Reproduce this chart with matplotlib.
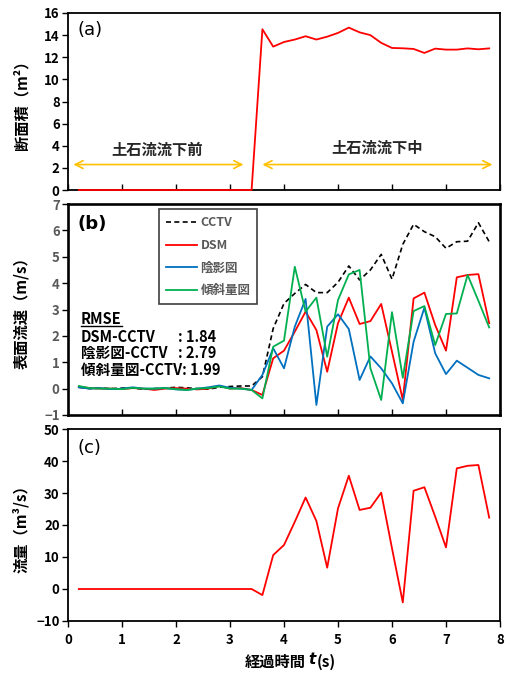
import numpy as np
import matplotlib
matplotlib.use("Agg")
import matplotlib.pyplot as plt
from matplotlib.lines import Line2D

plt.rcParams['font.family'] = ['Noto Sans CJK JP', 'DejaVu Sans']

# ---------------- data ----------------
t = [round(0.2 * i, 1) for i in range(1, 40)]  # 0.2 ... 7.8

area = [0.0] * 17 + [14.53, 12.96, 13.38, 13.6, 13.9, 13.6, 13.86, 14.2, 14.68,
                     14.25, 14.0, 13.3, 12.84, 12.81, 12.75, 12.39, 12.78, 12.69,
                     12.69, 12.8, 12.72, 12.8]

cctv = [0.05, 0.0, 0.02, 0.0, 0.02, 0.03, -0.03, 0.0, 0.02, 0.05, 0.03, 0.0, -0.02,
        0.05, 0.08, 0.1, 0.1,
        0.45, 2.28, 3.23, 3.61, 3.95, 3.64, 3.64, 4.03, 4.65, 4.12, 4.5, 5.09, 4.15,
        5.47, 6.23, 5.95, 5.76, 5.32, 5.57, 5.59, 6.29, 5.57]
dsm = [0.08, 0.02, 0.0, 0.0, -0.02, 0.02, 0.0, -0.05, 0.0, 0.02, 0.0, -0.03, 0.0,
       0.1, 0.0, 0.02, -0.05,
       -0.24, 1.15, 1.44, 2.16, 2.92, 2.22, 0.64, 2.48, 3.45, 2.45, 2.56, 3.21, 1.4,
       -0.43, 3.42, 3.64, 2.41, 1.44, 4.22, 4.31, 4.34, 2.48]
shade = [0.05, 0.0, 0.02, -0.02, 0.0, 0.05, 0.0, 0.0, 0.02, -0.03, -0.05, 0.0, 0.05,
         0.12, 0.03, 0.0, -0.05,
         0.52, 1.53, 0.77, 2.35, 3.4, -0.62, 2.35, 2.82, 2.26, 0.33, 1.22, 0.77, 0.2,
         -0.56, 1.78, 3.07, 1.34, 0.55, 1.06, 0.79, 0.52, 0.39]
slope = [0.1, 0.02, 0.0, 0.0, -0.02, 0.03, 0.0, 0.0, 0.02, -0.02, -0.05, 0.0, 0.02,
         0.08, 0.0, 0.0, -0.05,
         -0.37, 1.59, 1.82, 4.62, 2.92, 3.45, 1.21, 3.36, 4.33, 4.5, 0.77, -0.43, 2.9,
         0.41, 2.94, 3.13, 1.65, 2.83, 2.85, 4.31, 3.33, 2.32]

flow = [0.0] * 17 + [-1.9, 10.6, 13.75, 21.0, 28.6, 21.25, 6.66, 25.2, 35.4, 24.7,
                     25.4, 30.1, 12.7, -4.2, 30.7, 31.8, 22.6, 13.0, 37.7, 38.5,
                     38.75, 22.3]

series_names = ['CCTV', 'DSM', '陰影図', '傾斜量図']
rmse_labels = ['DSM-CCTV', '陰影図-CCTV', '傾斜量図-CCTV']
rmse_values = [1.84, 2.79, 1.99]

# ---------------- figure ----------------
W, H = 512, 673
fig = plt.figure(figsize=(W / 100, H / 100), dpi=100)

def ax_rect(l, r, top, bot):
    return [l / W, 1 - bot / H, (r - l) / W, (bot - top) / H]

axa = fig.add_axes(ax_rect(68, 500, 13, 190))
axb = fig.add_axes(ax_rect(68, 500, 204, 415))
axc = fig.add_axes(ax_rect(68, 500, 429, 621))

RED = '#FF0000'
BLUE = '#0070C0'
GREEN = '#00B050'
GRAY = '#595959'
ARROW = '#FFC000'
TICKFS = 9.5
YLFS = 11

for ax in (axa, axb, axc):
    ax.set_xlim(0, 8)
    ax.set_xticks(range(0, 9))
    for s in ax.spines.values():
        s.set_linewidth(1.3)
        s.set_color('black')
    ax.tick_params(axis='y', direction='out', length=4, width=1.0, pad=2)

# ---- (a)
axa.plot(t, area, color=RED, lw=1.3, clip_on=False, zorder=5)
axa.set_ylim(0, 16)
axa.set_yticks(range(0, 17, 2))
axa.tick_params(axis='x', direction='in', length=4, width=1.0, labelbottom=False)
for lab in axa.get_yticklabels():
    lab.set_fontsize(TICKFS); lab.set_fontweight('bold')
axa.set_ylabel('断面積（m²）', fontsize=YLFS, fontweight='bold')
axa.text(0.023, 0.905, '(a)', transform=axa.transAxes, fontsize=13,
         va='center', ha='left', family=['DejaVu Sans'])
axa.annotate('', xy=(0.1, 2.3), xytext=(3.25, 2.3),
             arrowprops=dict(arrowstyle='<->', color=ARROW, lw=1.2,
                             mutation_scale=14, shrinkA=0, shrinkB=0))
axa.annotate('', xy=(3.6, 2.3), xytext=(7.86, 2.3),
             arrowprops=dict(arrowstyle='<->', color=ARROW, lw=1.2,
                             mutation_scale=14, shrinkA=0, shrinkB=0))
axa.text(1.64, 3.6, '土石流流下前', ha='center', va='center', fontsize=11,
         fontweight='bold', color='#262626')
axa.text(5.72, 3.8, '土石流流下中', ha='center', va='center', fontsize=11,
         fontweight='bold', color='#262626')

# ---- (b)
for s in axb.spines.values():
    s.set_linewidth(1.9)
axb.plot(t, cctv, color='black', lw=1.2, ls=(0, (3, 2)), label=series_names[0])
axb.plot(t, dsm, color=RED, lw=1.3, label=series_names[1])
axb.plot(t, shade, color=BLUE, lw=1.3, label=series_names[2])
axb.plot(t, slope, color=GREEN, lw=1.3, label=series_names[3])
axb.set_ylim(-1, 7)
axb.set_yticks(range(-1, 8))
axb.tick_params(axis='x', direction='in', length=4, width=1.0, labelbottom=False)
axb.tick_params(axis='y', labelcolor=GRAY)
for lab in axb.get_yticklabels():
    lab.set_fontsize(TICKFS); lab.set_fontweight('bold')
axb.set_ylabel('表面流速（m/s）', fontsize=YLFS, fontweight='bold')
axb.text(0.023, 0.905, '(b)', transform=axb.transAxes, fontsize=13,
         fontweight='bold', va='center', ha='left', family=['DejaVu Sans'])
leg = axb.legend(loc='upper left', bbox_to_anchor=(0.21, 0.975), fontsize=9,
                 handlelength=2.5, handletextpad=0.3, labelspacing=0.78,
                 borderpad=0.55, fancybox=False, framealpha=1,
                 edgecolor='#404040', borderaxespad=0)
leg.get_frame().set_linewidth(1.2)
for txt in leg.get_texts():
    txt.set_color(GRAY); txt.set_fontweight('bold')

axb.text(0.029, 0.455, 'RMSE', transform=axb.transAxes, fontsize=10.5,
         fontweight='bold', va='center', ha='left')
axb.add_line(Line2D([0.029, 0.124], [0.42, 0.42], transform=axb.transAxes,
                    color='black', lw=1.0))
row_y = [0.37, 0.294, 0.213]
for i, (lab, val, yy) in enumerate(zip(rmse_labels, rmse_values, row_y)):
    if i < 2:
        axb.text(0.029, yy, lab, transform=axb.transAxes, fontsize=10.5,
                 fontweight='bold', va='center', ha='left')
        axb.text(0.255, yy, f': {val:.2f}', transform=axb.transAxes, fontsize=10.5,
                 fontweight='bold', va='center', ha='left')
    else:
        axb.text(0.029, yy, f'{lab}: {val:.2f}', transform=axb.transAxes,
                 fontsize=10.5, fontweight='bold', va='center', ha='left')

# ---- (c)
axc.plot(t, flow, color=RED, lw=1.3)
axc.set_ylim(-10, 50)
axc.set_yticks(range(-10, 51, 10))
axc.tick_params(axis='x', direction='out', length=4, width=1.0, pad=5)
for lab in axc.get_yticklabels() + axc.get_xticklabels():
    lab.set_fontsize(TICKFS); lab.set_fontweight('bold')
axc.set_ylabel('流量（m³/s）', fontsize=YLFS, fontweight='bold')
axc.text(0.023, 0.9, '(c)', transform=axc.transAxes, fontsize=13,
         va='center', ha='left', family=['DejaVu Sans'])

# x label with italic t
xl1 = fig.text(275 / W, 1 - 662 / H, '経過時間', fontsize=11, fontweight='bold',
               ha='center', va='center')
xl2 = fig.text(0, 0, 't', fontsize=11, fontweight='bold', style='italic',
               family=['DejaVu Sans'])
xl3 = fig.text(0, 0, '(s)', fontsize=11, fontweight='bold')
fig.canvas.draw()
r = fig.canvas.get_renderer()
bb1 = xl1.get_window_extent(r)
xl2.set_position(((bb1.x1 + 3) / W, bb1.y0 / H + 0.004))
xl2.set_va('bottom')
fig.canvas.draw()
bb2 = xl2.get_window_extent(r)
xl3.set_position(((bb2.x1 + 1) / W, bb1.y0 / H))
xl3.set_va('bottom')

for ax in (axa, axb, axc):
    ax.yaxis.set_label_coords(-0.09, 0.5)

fig.savefig('out.png', dpi=100)
